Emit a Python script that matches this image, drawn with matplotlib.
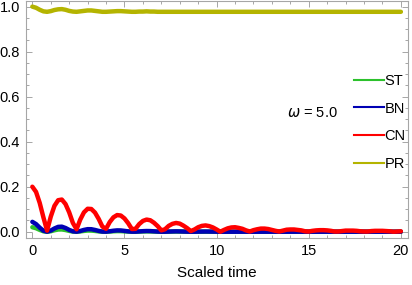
import numpy as np
import matplotlib
matplotlib.use("Agg")
import matplotlib.pyplot as plt
from matplotlib.lines import Line2D
from matplotlib.ticker import MultipleLocator

plt.rcParams['font.family'] = ['Liberation Sans', 'DejaVu Sans']

# scaled time, sampled every 0.2
t = np.linspace(0, 20, 101)

cn = [0.200, 0.177, 0.128, 0.064, 0.005, 0.067, 0.115, 0.140, 0.143, 0.123,
      0.086, 0.039, 0.011, 0.054, 0.086, 0.102, 0.101, 0.085, 0.057, 0.023,
      0.013, 0.043, 0.064, 0.074, 0.072, 0.059, 0.038, 0.012, 0.013, 0.034,
      0.048, 0.054, 0.051, 0.040, 0.025, 0.006, 0.011, 0.026, 0.035, 0.039,
      0.036, 0.027, 0.016, 0.003, 0.010, 0.020, 0.026, 0.028, 0.025, 0.019,
      0.010, 0.000, 0.008, 0.015, 0.019, 0.020, 0.017, 0.013, 0.006, 0.001,
      0.007, 0.011, 0.014, 0.014, 0.012, 0.008, 0.004, 0.001, 0.005, 0.009,
      0.010, 0.010, 0.008, 0.006, 0.002, 0.001, 0.004, 0.006, 0.007, 0.007,
      0.006, 0.004, 0.001, 0.001, 0.003, 0.005, 0.005, 0.005, 0.004, 0.002,
      0.001, 0.001, 0.003, 0.004, 0.004, 0.004, 0.003, 0.002, 0.000, 0.001,
      0.002]

bn = [0.0440, 0.0340, 0.0180, 0.0045, 0.0000, 0.0050, 0.0145, 0.0216, 0.0225, 0.0166,
      0.0081, 0.0017, 0.0001, 0.0032, 0.0081, 0.0114, 0.0112, 0.0079, 0.0036, 0.0006,
      0.0002, 0.0020, 0.0045, 0.0060, 0.0057, 0.0038, 0.0016, 0.0002, 0.0002, 0.0013,
      0.0025, 0.0032, 0.0029, 0.0018, 0.0007, 0.0000, 0.0001, 0.0007, 0.0013, 0.0017,
      0.0014, 0.0008, 0.0003, 0.0000, 0.0001, 0.0004, 0.0007, 0.0009, 0.0007, 0.0004,
      0.0001] + [0.0] * 50

st = [0.0200, 0.0157, 0.0082, 0.0020, 0.0000, 0.0022, 0.0066, 0.0098, 0.0102, 0.0076,
      0.0037, 0.0008, 0.0000, 0.0015, 0.0037, 0.0052, 0.0051, 0.0036, 0.0016, 0.0003,
      0.0001, 0.0009, 0.0020, 0.0027, 0.0026, 0.0017, 0.0007, 0.0001, 0.0001, 0.0006,
      0.0012, 0.0015, 0.0013, 0.0008, 0.0003, 0.0000, 0.0000, 0.0003, 0.0006, 0.0008,
      0.0006, 0.0004, 0.0001] + [0.0] * 58

pr = [1.000, 0.995, 0.986, 0.979, 0.977, 0.980, 0.985, 0.988, 0.989, 0.986,
      0.981, 0.978, 0.977, 0.979, 0.981, 0.983, 0.983, 0.981, 0.979, 0.977,
      0.977, 0.978, 0.979, 0.980, 0.980, 0.979, 0.978, 0.977, 0.977, 0.978,
      0.978, 0.979, 0.978, 0.978] + [0.977] * 67

labels = ["ST", "BN", "CN", "PR"]
colors = ["#2cc12c", "#0000b4", "#ff0000", "#b4b400"]

fig = plt.figure(figsize=(4.12, 2.85), dpi=100)
ax = fig.add_axes([0.0624, 0.164, 0.9276, 0.8325])

for y, c in zip([st, bn, cn, pr], colors):
    ax.plot(t, y, color=c, lw=3.2, solid_capstyle='round', solid_joinstyle='round')

ax.set_xlim(-0.36, 20.38)
ax.set_ylim(-0.029, 1.025)
ax.xaxis.set_major_locator(MultipleLocator(5))
ax.xaxis.set_minor_locator(MultipleLocator(1))
ax.yaxis.set_major_locator(MultipleLocator(0.2))
ax.yaxis.set_minor_locator(MultipleLocator(0.05))
ax.yaxis.set_major_formatter(plt.FuncFormatter(lambda v, p: f"{v:.1f}"))

for s in ax.spines.values():
    s.set_color("#a6a6a6")
    s.set_linewidth(0.8)
ax.tick_params(which='both', direction='in', top=True, right=True,
               color="#a6a6a6", width=0.7, labelsize=10.5, labelcolor='black')
ax.tick_params(which='major', length=4, pad=4)
ax.tick_params(which='minor', length=2.2)

ax.set_xlabel("Scaled time", fontsize=11, labelpad=6)

handles = [Line2D([], [], color=c, lw=1.5) for c in colors]
ax.legend(handles, labels, loc='upper left', bbox_to_anchor=(0.845, 0.718),
          frameon=False, fontsize=10.5, handlelength=2.0, handletextpad=0.05,
          labelspacing=0.95, borderaxespad=0)

ax.text(287, 285 - 113, r"$\omega$ = 5.0", transform=None, fontsize=10.5, va='center')

fig.savefig("out.png", dpi=100)
